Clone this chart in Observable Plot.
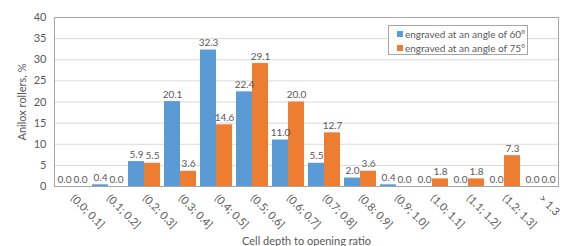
<!DOCTYPE html>
<html>
<head>
<meta charset="utf-8">
<script src="https://cdn.jsdelivr.net/npm/d3@7"></script>
<script src="https://cdn.jsdelivr.net/npm/@observablehq/plot@0.6"></script>
<style>
  html, body { margin: 0; padding: 0; background: #fff; }
  #wrap { position: relative; width: 562px; height: 246px; overflow: hidden; font-family: Lato, Carlito, Calibri, sans-serif; }
  #legend { position: absolute; left: 388px; top: 25px; width: 140px; height: 30px; box-sizing: border-box;
    border: 1px solid #a6a6a6; background: #fff; font-size: 10px; color: #595959; padding: 1px 0 0 8px; }
  #legend .row { display: flex; align-items: center; height: 14px; white-space: nowrap; }
  #legend .sw { width: 6px; height: 6px; margin-right: 2px; flex: none; }
</style>
</head>
<body>
<div id="wrap"></div>
<script>
const categories = ["(0.0; 0.1]", "(0.1; 0.2]", "(0.2; 0.3]", "(0.3; 0.4]", "(0.4; 0.5]", "(0.5; 0.6]", "(0.6; 0.7]",
  "(0.7; 0.8]", "(0.8; 0.9]", "(0.9; 1.0]", "(1.0; 1.1]", "(1.1; 1.2]", "(1.2; 1.3]", "> 1.3"];
const seriesNames = ["engraved at an angle of 60°", "engraved at an angle of 75°"];
const values60 = [0.0, 0.4, 5.9, 20.1, 32.3, 22.4, 11.0, 5.5, 2.0, 0.4, 0.0, 0.0, 0.0, 0.0];
const values75 = [0.0, 0.0, 5.5, 3.6, 14.6, 29.1, 20.0, 12.7, 3.6, 0.0, 1.8, 1.8, 7.3, 0.0];
const seriesColors = ["#5B9BD5", "#ED7D31"];
const yTicks = [0, 5, 10, 15, 20, 25, 30, 35, 40];

const data = [];
categories.forEach((c, i) => {
  data.push({cat: c, series: seriesNames[0], value: values60[i]});
  data.push({cat: c, series: seriesNames[1], value: values75[i]});
});

const chart = Plot.plot({
  width: 562,
  height: 246,
  marginLeft: 52,
  marginRight: 3,
  marginTop: 17,
  marginBottom: 60,
  style: {fontFamily: "Lato, Carlito, Calibri, sans-serif", fontSize: "11px", color: "#595959", background: "#fff"},
  fx: {domain: categories, padding: 0},
  x: {domain: seriesNames, paddingInner: 0, paddingOuter: 0.12, axis: null},
  y: {domain: [0, 40]},
  color: {domain: seriesNames, range: seriesColors},
  marks: [
    Plot.ruleY(yTicks, {stroke: "#d9d9d9", strokeWidth: 1}),
    Plot.barY(data, {fx: "cat", x: "series", y: "value", fill: "series"}),
    Plot.text(data, {fx: "cat", x: "series", y: "value", text: d => d.value.toFixed(1),
      lineAnchor: "bottom", dy: -4, fill: "#595959", fontSize: 10}),
    Plot.frame({facet: "super", stroke: "#a6a6a6"}),
    Plot.axisY({ticks: yTicks, tickSize: 0, tickPadding: 8, label: "Anilox rollers, %", labelAnchor: "center",
      labelOffset: 36, labelArrow: "none", fontSize: 11}),
    Plot.axisFx({anchor: "bottom", tickRotate: 45, tickSize: 0, tickPadding: 10, fontSize: 10.5,
      label: "Cell depth to opening ratio", labelAnchor: "center", labelOffset: 58, labelArrow: "none", fontSize: 11})
  ]
});

const wrap = document.getElementById("wrap");
wrap.appendChild(chart);

const legend = document.createElement("div");
legend.id = "legend";
seriesNames.forEach((name, i) => {
  const row = document.createElement("div");
  row.className = "row";
  const sw = document.createElement("span");
  sw.className = "sw";
  sw.style.background = seriesColors[i];
  const t = document.createElement("span");
  t.textContent = name;
  row.appendChild(sw);
  row.appendChild(t);
  legend.appendChild(row);
});
wrap.appendChild(legend);
</script>
</body>
</html>
